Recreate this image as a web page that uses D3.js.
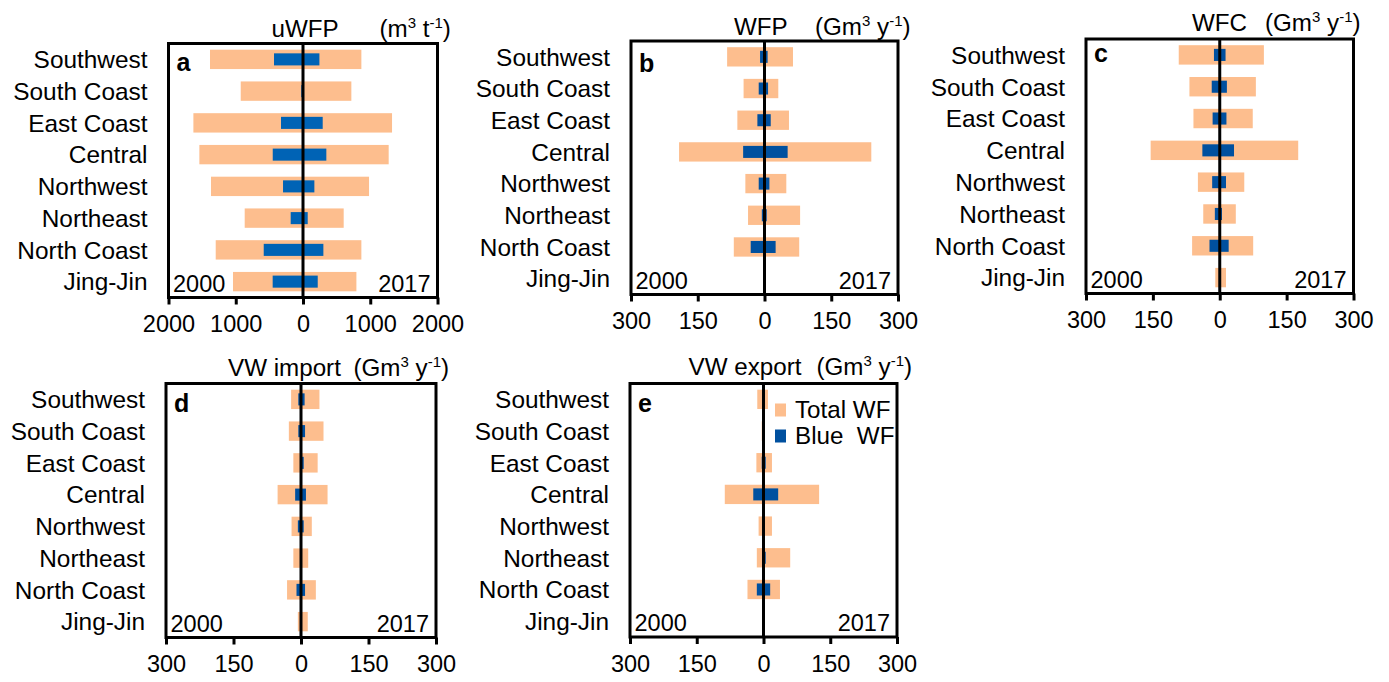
<!DOCTYPE html>
<html>
<head>
<meta charset="utf-8">
<script src="https://cdn.jsdelivr.net/npm/d3@7"></script>
<style>
  html, body { margin: 0; padding: 0; background: #fff; }
  svg { display: block; font-family: "Liberation Sans", Arial, sans-serif; }
</style>
</head>
<body>
<svg id="chart" width="1389" height="682"></svg>
<script>
// ---------------- DATA ----------------
const regions = ["Southwest", "South Coast", "East Coast", "Central", "Northwest", "Northeast", "North Coast", "Jing-Jin"];

// Panel a: uWFP (m3 t-1)
const uwfpTotal2000 = [1383, 926, 1630, 1541, 1368, 867, 1298, 1041];
const uwfpTotal2017 = [868, 719, 1324, 1274, 982, 605, 868, 794];
const uwfpBlue2000  = [431, 25, 327, 450, 297, 183, 584, 451];
const uwfpBlue2017  = [244, 0, 293, 347, 169, 70, 303, 219];

// Panel b: WFP (Gm3 y-1)
const wfpTotal2000 = [84, 47, 61, 192, 43, 37, 69, 0];
const wfpTotal2017 = [64, 31, 55, 240, 49, 80, 78, 0];
const wfpBlue2000  = [10, 13, 16, 48, 13, 6, 31, 0];
const wfpBlue2017  = [7, 8, 14, 52, 11, 5, 25, 0];

// Panel c: WFC (Gm3 y-1)
const wfcTotal2000 = [92, 68, 59, 155, 49, 37, 62, 10];
const wfcTotal2017 = [99, 81, 74, 176, 55, 36, 75, 14];
const wfcBlue2000  = [13, 18, 16, 39, 17, 11, 23, 0];
const wfcBlue2017  = [13, 16, 15, 32, 14, 5, 20, 0];

// Panel d: VW import (Gm3 y-1)
const impTotal2000 = [22, 27, 17, 52, 21, 17, 31, 7];
const impTotal2017 = [41, 50, 37, 59, 24, 16, 33, 15];
const impBlue2000  = [6, 6, 2, 13, 7, 0, 10, 0];
const impBlue2017  = [8, 9, 6, 11, 6, 0, 9, 0];

// Panel e: VW export (Gm3 y-1)
const expTotal2000 = [14, 4, 16, 87, 11, 15, 36, 0];
const expTotal2017 = [10, 0, 19, 125, 19, 60, 37, 0];
const expBlue2000  = [0, 0, 4, 23, 0, 2, 15, 0];
const expBlue2017  = [0, 0, 5, 33, 0, 5, 15, 0];

// Axis ticks
const ticksUWFP = [-2000, -1000, 0, 1000, 2000];
const ticksVol  = [-300, -150, 0, 150, 300];

const yearLeft = "2000";
const yearRight = "2017";
const legendLabels = ["Total WF", "Blue  WF"];

// ---------------- LAYOUT / STYLE ----------------
const ORANGE = "#FDBE8E";
const panels = [
  { letter: "a", title: "uWFP", unit: ["(m", "3", " t", "-1", ")"], total2000: uwfpTotal2000, total2017: uwfpTotal2017, blue2000: uwfpBlue2000, blue2017: uwfpBlue2017, max: 2000, ticks: ticksUWFP,
    box: { x: 168.5, y: 43.5, w: 269, h: 254 }, titleDx: 103, unitDx: 211, titleDy: -6.5, letterDy: 27, blue: "#0063B5" },
  { letter: "b", title: "WFP", unit: ["(Gm", "3", " y", "-1", ")"], total2000: wfpTotal2000, total2017: wfpTotal2017, blue2000: wfpBlue2000, blue2017: wfpBlue2017, max: 300, ticks: ticksVol,
    box: { x: 631, y: 41, w: 267, h: 253.5 }, titleDx: 103, unitDx: 184, titleDy: -6, letterDy: 31, blue: "#00509F" },
  { letter: "c", title: "WFC", unit: ["(Gm", "3", " y", "-1", ")"], total2000: wfcTotal2000, total2017: wfcTotal2017, blue2000: wfcBlue2000, blue2017: wfcBlue2017, max: 300, ticks: ticksVol,
    box: { x: 1086, y: 39, w: 267.5, h: 254.5 }, titleDx: 106, unitDx: 179, titleDy: -8, letterDy: 23, blue: "#00509F" },
  { letter: "d", title: "VW import", unit: ["(Gm", "3", " y", "-1", ")"], total2000: impTotal2000, total2017: impTotal2017, blue2000: impBlue2000, blue2017: impBlue2017, max: 300, ticks: ticksVol,
    box: { x: 166, y: 383.5, w: 270, h: 254 }, titleDx: 62, unitDx: 187.5, titleDy: -7.5, letterDy: 28, blue: "#00509F" },
  { letter: "e", title: "VW export", unit: ["(Gm", "3", " y", "-1", ")"], total2000: expTotal2000, total2017: expTotal2017, blue2000: expBlue2000, blue2017: expBlue2017, max: 300, ticks: ticksVol,
    box: { x: 630, y: 383.5, w: 267, h: 253.5 }, titleDx: 58.5, unitDx: 186.5, titleDy: -8.5, letterDy: 28, blue: "#00509F", legend: true }
];

const svg = d3.select("#chart");
const FS = 23.5;      // ticks, years, legend
const FS_CAT = 24.4;  // category labels
const FS_T = 24.2;    // titles

panels.forEach(p => {
  const b = p.box;
  const g = svg.append("g");
  const x = d3.scaleLinear().domain([-p.max, p.max]).range([b.x, b.x + b.w]);
  const y = d3.scaleBand().domain(regions).range([b.y, b.y + b.h]).padding(0);
  const bw = y.bandwidth();
  const hO = bw * 0.61, hB = bw * 0.38;

  const rows = regions.map((r, i) => ({ r, t0: p.total2000[i], t1: p.total2017[i], b0: p.blue2000[i], b1: p.blue2017[i] }));

  // Total WF bars
  g.selectAll("rect.tot").data(rows).join("rect").attr("class", "tot")
    .attr("x", d => x(-d.t0))
    .attr("width", d => x(d.t1) - x(-d.t0))
    .attr("y", d => y(d.r) + (bw - hO) / 2)
    .attr("height", hO)
    .attr("fill", ORANGE);

  // Blue WF bars
  g.selectAll("rect.blu").data(rows.filter(d => d.b0 + d.b1 > 0)).join("rect").attr("class", "blu")
    .attr("x", d => x(-d.b0))
    .attr("width", d => x(d.b1) - x(-d.b0))
    .attr("y", d => y(d.r) + (bw - hB) / 2)
    .attr("height", hB)
    .attr("fill", p.blue);

  // zero line
  g.append("line").attr("x1", x(0)).attr("x2", x(0)).attr("y1", b.y).attr("y2", b.y + b.h)
    .attr("stroke", "#000").attr("stroke-width", 3);

  // frame
  g.append("rect").attr("x", b.x).attr("y", b.y).attr("width", b.w).attr("height", b.h)
    .attr("fill", "none").attr("stroke", "#000").attr("stroke-width", 3);

  // x axis
  const ax = g.append("g").attr("transform", `translate(0,${b.y + b.h})`)
    .call(d3.axisBottom(x).tickValues(p.ticks).tickSize(7).tickPadding(11).tickFormat(d => Math.abs(d)));
  ax.select(".domain").remove();
  ax.selectAll(".tick line").attr("stroke", "#000").attr("stroke-width", 3);
  ax.selectAll(".tick text").attr("font-size", FS).attr("fill", "#000")
    .attr("font-family", "'Liberation Sans', Arial, sans-serif");

  // y labels
  g.selectAll("text.cat").data(regions).join("text").attr("class", "cat")
    .attr("x", b.x - 21).attr("y", d => y(d) + bw / 2).attr("dy", "0.36em")
    .attr("text-anchor", "end").attr("font-size", FS_CAT).attr("fill", "#000").text(d => d);

  // years
  g.append("text").attr("x", b.x + 4.5).attr("y", b.y + b.h - 6).attr("font-size", FS).text(yearLeft);
  g.append("text").attr("x", b.x + b.w - 7).attr("y", b.y + b.h - 6).attr("text-anchor", "end").attr("font-size", FS).text(yearRight);

  // panel letter
  g.append("text").attr("x", b.x + 8).attr("y", b.y + p.letterDy).attr("font-size", 25).attr("font-weight", "bold").text(p.letter);

  // title
  g.append("text").attr("x", b.x + p.titleDx).attr("y", b.y + p.titleDy).attr("font-size", FS_T).text(p.title);
  const u = g.append("text").attr("x", b.x + p.unitDx).attr("y", b.y + p.titleDy).attr("font-size", FS_T);
  u.append("tspan").text(p.unit[0]);
  u.append("tspan").attr("font-size", 15).attr("dy", -9).text(p.unit[1]);
  u.append("tspan").attr("dy", 9).text(p.unit[2]);
  u.append("tspan").attr("font-size", 15).attr("dy", -9).text(p.unit[3]);
  u.append("tspan").attr("dy", 9).text(p.unit[4]);

  // legend
  if (p.legend) {
    const lx = b.x + 145, ly = b.y + 20;
    const cols = [ORANGE, p.blue];
    legendLabels.forEach((lab, i) => {
      g.append("rect").attr("x", lx).attr("y", ly + i * 26).attr("width", 11).attr("height", 13).attr("fill", cols[i]);
      g.append("text").attr("x", lx + 20).attr("y", ly + i * 26 + 14).attr("font-size", FS_T)
        .style("white-space", "pre").text(lab);
    });
  }
});
</script>
</body>
</html>
